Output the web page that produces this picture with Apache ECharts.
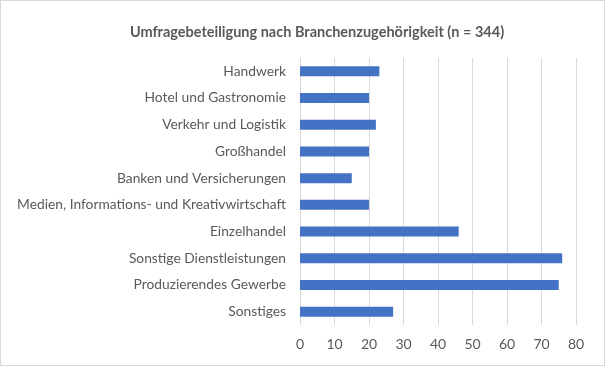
<!DOCTYPE html>
<html><head><meta charset="utf-8">
<script src="https://cdn.jsdelivr.net/npm/echarts@6/dist/echarts.min.js"></script>
<style>html,body{margin:0;padding:0;background:#fff}#c{width:605px;height:366px;box-sizing:border-box;border:1px solid #d9d9d9}</style>
</head><body><div id="c"></div>
<script>
const categories = ["Handwerk","Hotel und Gastronomie","Verkehr und Logistik","Großhandel","Banken und Versicherungen","Medien, Informations- und Kreativwirtschaft","Einzelhandel","Sonstige Dienstleistungen","Produzierendes Gewerbe","Sonstiges"];
const values = [23,20,22,20,15,20,46,76,75,27];
const titleText = "Umfragebeteiligung nach Branchenzugehörigkeit (n = 344)";
const font = "Lato, Open Sans, sans-serif";
const chart = echarts.init(document.getElementById('c'), null, {renderer:'canvas'});
chart.setOption({
  animation:false,
  title:{text:titleText,left:311,textAlign:'center',top:19,textStyle:{fontFamily:font,fontSize:14.5,fontWeight:'bold',color:'#595959'}},
  grid:{left:299,right:28,top:57,bottom:40,containLabel:false},
  xAxis:{type:'value',min:0,max:80,interval:10,
    axisLine:{show:false},axisTick:{show:false},
    splitLine:{lineStyle:{color:'#d9d9d9',width:1}},
    axisLabel:{fontFamily:font,fontSize:14,color:'#595959',margin:12}},
  yAxis:{type:'category',inverse:true,data:categories,
    axisLine:{show:false},axisTick:{show:false},
    axisLabel:{fontFamily:font,fontSize:13.8,color:'#595959',margin:14}},
  series:[{type:'bar',data:values,barWidth:10,itemStyle:{color:'#4472c4'}}]
});
</script></body></html>
